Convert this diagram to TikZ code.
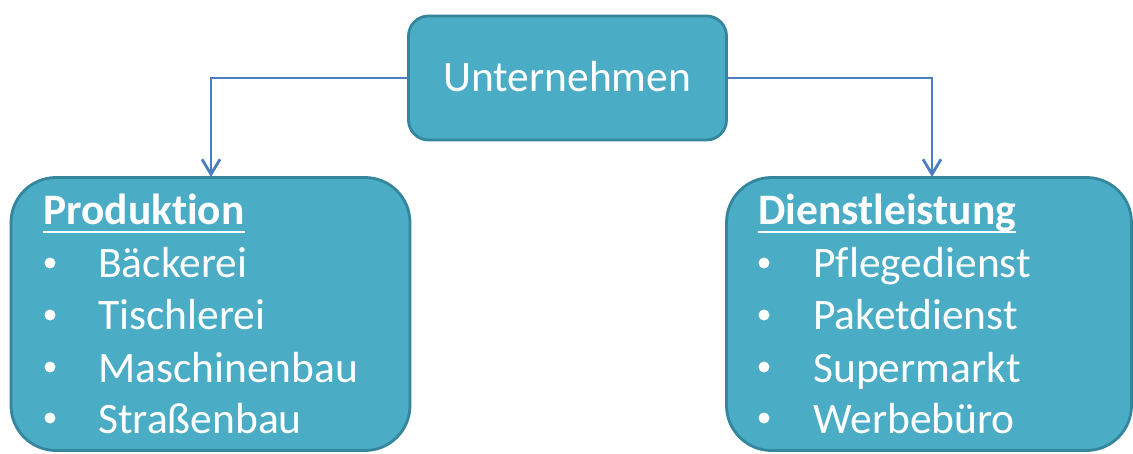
\documentclass[tikz,border=0pt]{standalone}
\usepackage{fontspec}
\setmainfont{Carlito}[Ligatures=NoCommon]
\usetikzlibrary{arrows.meta}
\definecolor{boxfill}{HTML}{4BACC6}
\definecolor{boxline}{HTML}{34869D}
\definecolor{conn}{HTML}{4A7EC0}
\tikzset{
  box/.style={draw=boxline, line width=2.8pt, fill=boxfill, inner sep=0pt},
  txt/.style={anchor=base west, inner sep=0pt, text=white, font=\fontsize{43.5}{52}\selectfont},
  head/.style={txt, font=\fontsize{43.5}{52}\selectfont\bfseries},
  bul/.style={circle, fill=white, inner sep=0pt, minimum size=11pt},
  conn/.style={draw=conn, line width=2.8pt, -{Straight Barb[length=15pt,width=18pt,line width=2.8pt]}},
  uline/.style={draw=white, line width=2.4pt}
}
\begin{document}
\begin{tikzpicture}[x=1pt,y=-1pt]
\useasboundingbox (0,0) rectangle (1133,454);
% boxes
\node[box, rounded corners=20pt, minimum width=318pt, minimum height=124pt] (top) at (567.5,78) {};
\node[box, rounded corners=45pt, minimum width=399pt, minimum height=273pt] (prod) at (210.5,314) {};
\node[box, rounded corners=45pt, minimum width=405pt, minimum height=273pt] (dienst) at (929,314) {};
% connectors
\coordinate (lt) at (211,177);
\coordinate (rt) at (932,177);
\draw[conn] (top.west) -| (lt);
\draw[conn] (top.east) -| (rt);
% top text
\node[txt] (tu) at (443,92) {Unternehmen};
% left
\node[head] (h1) at (43,225) {Produktion};
\draw[uline] ([yshift=-7pt]h1.base west) -- ([yshift=-7pt]h1.base east);
\node[bul] (b11) at (50,263) {};
\node[txt] (l11) at (98,278) {Bäckerei};
\node[bul] (b12) at (50,315) {};
\node[txt] (l12) at (98,330) {Tischlerei};
\node[bul] (b13) at (50,367) {};
\node[txt] (l13) at (98,382) {Maschinenbau};
\node[bul] (b14) at (50,418) {};
\node[txt] (l14) at (98,433) {Straßenbau};
% right
\node[head] (h2) at (758,225) {Dienstleistung};
\draw[uline] ([yshift=-7pt]h2.base west) -- ([yshift=-7pt]h2.base east);
\node[bul] (b21) at (764,263) {};
\node[txt] (l21) at (813,278) {Pflegedienst};
\node[bul] (b22) at (764,315) {};
\node[txt] (l22) at (813,330) {Paketdienst};
\node[bul] (b23) at (764,367) {};
\node[txt] (l23) at (813,382) {Supermarkt};
\node[bul] (b24) at (764,418) {};
\node[txt] (l24) at (813,433) {Werbebüro};
\end{tikzpicture}
\end{document}
